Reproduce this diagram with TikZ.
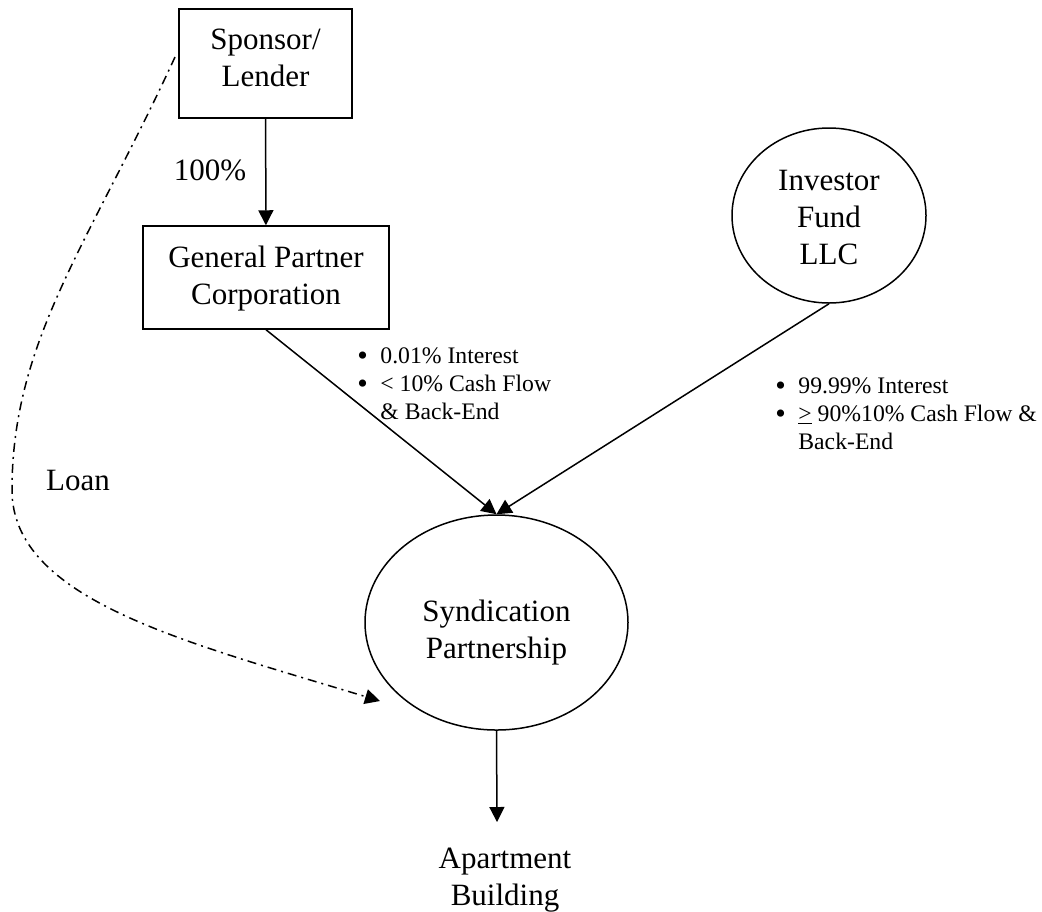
\documentclass[tikz,border=0pt]{standalone}
\usepackage{fontspec}
\setmainfont{Liberation Serif}
\usetikzlibrary{arrows.meta, shapes.geometric}
\tikzset{
  entity node/.style={
    draw,
    line width=0.75pt,
    align=center,
    inner sep=0pt,
  },
  flow line/.style={
    line width=0.75pt,
    -{Triangle[length=7.5pt, width=7.5pt]},
  },
  loan line/.style={
    flow line,
    dash pattern=on 4.5pt off 2.5pt on 1pt off 2.5pt,
  },
  note text/.style={
    anchor=base west,
    inner sep=0pt,
    font=\fontsize{11.85}{14}\selectfont,
  },
}
\newcommand{\bulletitem}{\makebox[11.5pt][l]{\smash{\raisebox{-1.3pt}{\fontsize{15}{14}\selectfont\textbullet}}}}

\begin{document}
\begin{tikzpicture}[x=0.5pt, y=-0.5pt, font=\fontsize{15.5}{18.5}\selectfont]
        \useasboundingbox (0,0) rectangle (1042,911);

        \node[entity node, rectangle, minimum width=86.5pt, minimum height=54.5pt, text height=23.5pt] (sponsor) at (265.5,63.5) {Sponsor/\\Lender};
        \node[entity node, rectangle, minimum width=123pt , minimum height=51.5pt, text height=30pt] (gp) at (266,277.5) {General Partner\\Corporation};
        \node[entity node, ellipse, minimum width=97pt , minimum height=87.5pt , text height=49.5pt] (fund) at (829,215.5) {Investor\\Fund\\LLC};
        \node[entity node, ellipse, minimum width=131.5pt, minimum height=107.5pt, text height=38.8pt] (synd) at (496.5,622.5) {Syndication\\Partnership};
        \node[inner sep=0pt, align=center] (building) at (505,880) {Apartment\\Building};

        \node[inner sep=0pt] (share) at (210,170) {100\%};
        \node[inner sep=0pt] (loan)  at (78,480)  {Loan};

        \node[note text] (gp terms) at (357,363) {\begin{tabular}[t]{@{}l@{}}
            \bulletitem 0.01\% Interest\\
            \bulletitem < 10\% Cash Flow\\
            \hspace{11.5pt}\& Back-End
          \end{tabular}};
        \node[note text] (fund terms) at (775,393) {\begin{tabular}[t]{@{}l@{}}
            \bulletitem 99.99\% Interest\\
            \bulletitem \underline{>} 90\%10\% Cash Flow \&\\
            \hspace{11.5pt}Back-End
          \end{tabular}};

        \coordinate (loan start)   at (175,57);
        \coordinate (loan end)     at (380,701);
        \coordinate (building top) at (497,822);

        \draw[flow line] (sponsor) -- (gp);
        \draw[flow line] (gp.south) -- (synd.north);
        \draw[flow line] (fund.south) -- (synd.north);
        \draw[flow line] (synd.south) -- (building top);
        \draw[loan line] (loan start) .. controls (90,242) and (12,340) .. (12,490)
                                      .. controls (12,600) and (186,642) .. (loan end);
      \end{tikzpicture}
\end{document}
